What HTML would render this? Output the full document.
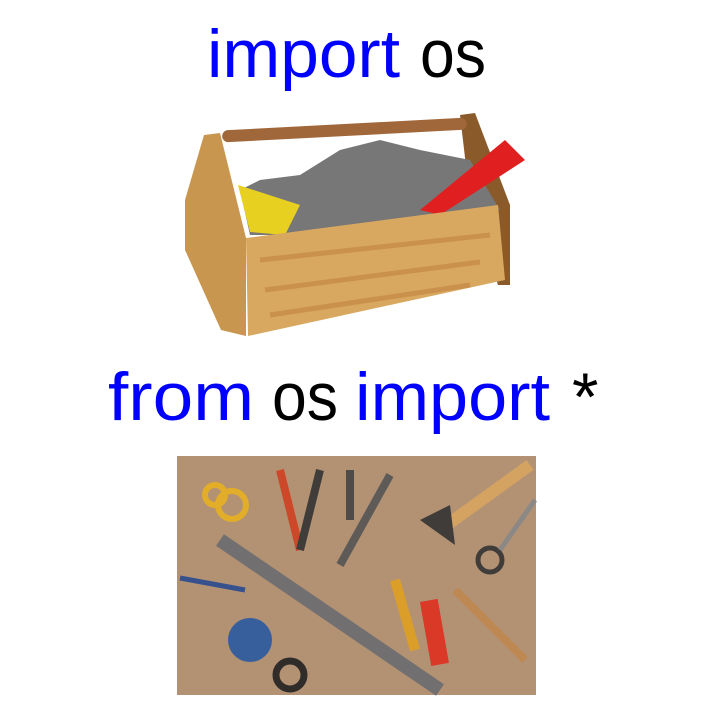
<!DOCTYPE html>
<html><head><meta charset="utf-8"><style>
html,body{margin:0;padding:0;background:#fff;width:720px;height:720px;overflow:hidden}
</style></head><body>
<svg width="720" height="720" viewBox="0 0 720 720" xmlns="http://www.w3.org/2000/svg" font-family="Liberation Sans, sans-serif">
<text x="207" y="77" font-size="68" fill="#0000ff" textLength="193" lengthAdjust="spacingAndGlyphs">import</text>
<text x="420" y="77" font-size="68" fill="#000" textLength="66" lengthAdjust="spacingAndGlyphs">os</text>

<!-- toolbox -->
<polygon points="204,135 220,133 246,238 246,336 221,330 185,250 185,200" fill="#c9964f"/>
<polygon points="460,115 475,113 510,205 510,285 498,285 470,200" fill="#8a5a2a"/>
<rect x="222" y="124" width="245" height="12" rx="6" fill="#a0673a" transform="rotate(-3 345 130)"/>
<polygon points="240,190 260,180 300,175 340,150 380,140 420,150 470,160 500,210 300,235 250,235" fill="#777"/>
<polygon points="420,210 505,140 525,160 440,215" fill="#e02020"/>
<polygon points="238,185 300,205 285,235 250,232" fill="#e8d020"/>
<polygon points="246,238 498,205 505,280 248,336" fill="#d9a860"/>
<path d="M260,260 L490,235 M265,290 L480,262 M270,315 L470,285" stroke="#c08240" stroke-width="5" fill="none" opacity="0.6"/>

<text x="108" y="420" font-size="68" fill="#0000ff" textLength="146" lengthAdjust="spacingAndGlyphs">from</text>
<text x="272" y="420" font-size="68" fill="#000" textLength="66" lengthAdjust="spacingAndGlyphs">os</text>
<text x="355" y="420" font-size="68" fill="#0000ff" textLength="195" lengthAdjust="spacingAndGlyphs">import</text>
<text x="572" y="420" font-size="68" fill="#000">*</text>

<!-- tools photo -->
<rect x="177" y="456" width="359" height="239" fill="#b39274"/>
<g opacity="0.9">
<line x1="220" y1="540" x2="440" y2="690" stroke="#6c6c70" stroke-width="14"/>
<line x1="440" y1="530" x2="530" y2="465" stroke="#d8a560" stroke-width="12"/>
<polygon points="420,520 450,505 455,545" fill="#333"/>
<circle cx="232" cy="505" r="14" fill="none" stroke="#e8b020" stroke-width="6"/>
<circle cx="215" cy="495" r="10" fill="none" stroke="#e8b020" stroke-width="6"/>
<line x1="280" y1="470" x2="300" y2="550" stroke="#d04020" stroke-width="8"/>
<line x1="320" y1="470" x2="300" y2="550" stroke="#333" stroke-width="8"/>
<line x1="350" y1="470" x2="350" y2="520" stroke="#444" stroke-width="8"/>
<line x1="390" y1="475" x2="340" y2="565" stroke="#555" stroke-width="8"/>
<line x1="395" y1="580" x2="415" y2="650" stroke="#e0a020" stroke-width="10"/>
<rect x="425" y="600" width="18" height="65" fill="#e03020" transform="rotate(-10 434 630)"/>
<circle cx="250" cy="640" r="22" fill="#2a5aa0"/>
<circle cx="290" cy="675" r="14" fill="none" stroke="#222" stroke-width="7"/>
<line x1="455" y1="590" x2="525" y2="660" stroke="#c08850" stroke-width="8"/>
<circle cx="490" cy="560" r="12" fill="none" stroke="#333" stroke-width="5"/>
<line x1="500" y1="550" x2="535" y2="500" stroke="#888" stroke-width="5"/>
<line x1="180" y1="578" x2="245" y2="590" stroke="#2a4a90" stroke-width="5"/>
</g>
</svg>
</body></html>
